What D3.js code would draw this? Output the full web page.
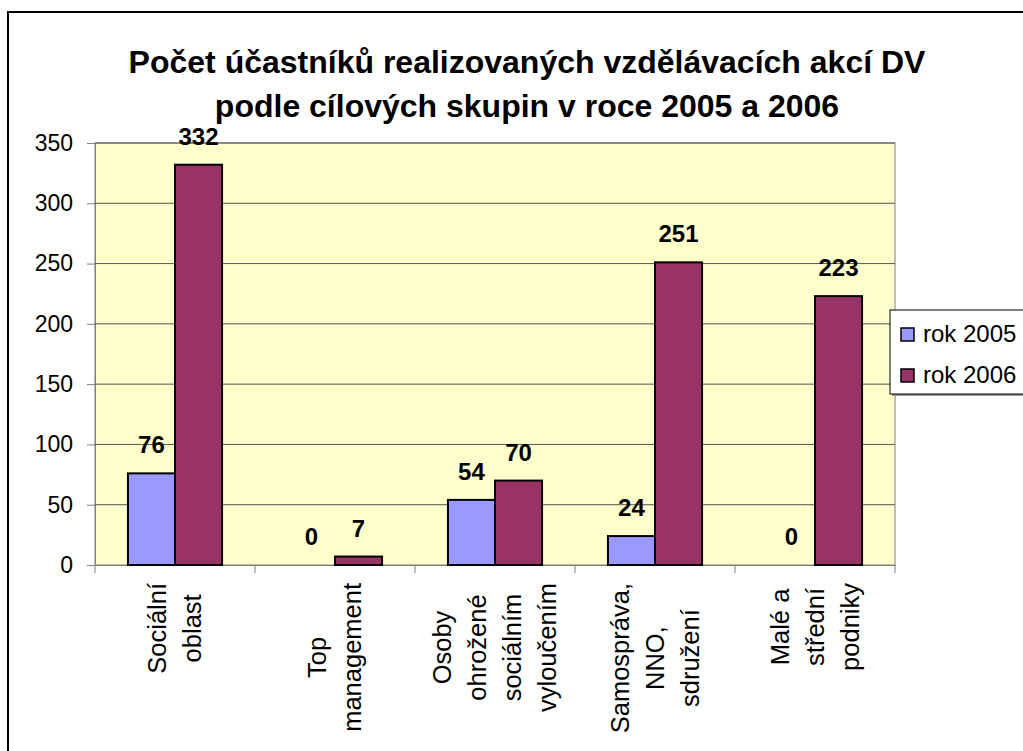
<!DOCTYPE html>
<html>
<head>
<meta charset="utf-8">
<script src="https://cdn.jsdelivr.net/npm/d3@7"></script>
<style>
	body { margin: 0; background: #fff; }
	text { font-family: "Liberation Sans", Arial, sans-serif; fill: #000; }
</style>
</head>
<body>
<svg id="chart" width="1023" height="751"></svg>
<script>
// data
var categories = ['Sociální oblast', 'Top management', 'Osoby ohrožené sociálním vyloučením', 'Samospráva, NNO, sdružení', 'Malé a střední podniky'];
var categoryLines = [
	['Sociální', 'oblast'],
	['Top', 'management'],
	['Osoby', 'ohrožené', 'sociálním', 'vyloučením'],
	['Samospráva,', 'NNO,', 'sdružení'],
	['Malé a', 'střední', 'podniky']
];
var seriesNames = ['rok 2005', 'rok 2006'];
var values2005 = [76, 0, 54, 24, 0];
var values2006 = [332, 7, 70, 251, 223];
var yTicks = [0, 50, 100, 150, 200, 250, 300, 350];
var titleLines = ['Počet účastníků realizovaných vzdělávacích akcí DV', 'podle cílových skupin v roce 2005 a 2006'];

var colors = {'rok 2005': '#9999FF', 'rok 2006': '#993366'};

var plot = {left: 95, right: 895, top: 143, bottom: 565};

var svg = d3.select('#chart');

// outer chart frame (runs off the right and bottom edge)
svg.append('rect')
	.attr('x', 10).attr('y', 14)
	.attr('width', 1100).attr('height', 800)
	.attr('fill', 'none').attr('stroke', '#999').attr('stroke-width', 2);
svg.append('rect')
	.attr('x', 8).attr('y', 12)
	.attr('width', 1100).attr('height', 800)
	.attr('fill', '#fff').attr('stroke', '#000').attr('stroke-width', 2);

// title
svg.selectAll('text.title').data(titleLines)
	.enter()
	.append('text')
	.attr('class', 'title')
	.attr('x', 527)
	.attr('y', function(d, i){ return 73 + i * 44; })
	.attr('text-anchor', 'middle')
	.style('font-weight', 'bold')
	.style('font-size', '32px')
	.text(function(d){ return d; });

var x = d3.scaleBand()
	.domain(categories)
	.range([plot.left, plot.right]);

var xSub = d3.scaleBand()
	.domain(seriesNames)
	.range([0, x.bandwidth()])
	.paddingOuter(0.7);

var y = d3.scaleLinear()
	.domain([0, 350])
	.range([plot.bottom, plot.top]);

// plot background
svg.append('rect')
	.attr('x', plot.left).attr('y', plot.top)
	.attr('width', plot.right - plot.left).attr('height', plot.bottom - plot.top)
	.attr('fill', '#FFFFCC').attr('stroke', '#808080').attr('stroke-width', 1);

// y axis with gridlines
var yAxis = svg.append('g')
	.attr('transform', 'translate(' + plot.left + ',0)')
	.call(d3.axisLeft(y).tickValues(yTicks).tickSize(8).tickPadding(14));

yAxis.select('.domain').attr('stroke', '#808080');
yAxis.selectAll('.tick line').attr('stroke', '#808080');
yAxis.selectAll('.tick text')
	.style('font-size', '23px')
	.style('font-family', '"Liberation Sans", Arial, sans-serif');

svg.append('g').selectAll('line.grid').data(yTicks.slice(1))
	.enter()
	.append('line')
	.attr('class', 'grid')
	.attr('x1', plot.left).attr('x2', plot.right)
	.attr('y1', function(d){ return y(d); })
	.attr('y2', function(d){ return y(d); })
	.attr('stroke', '#555').attr('stroke-width', 1);

// x axis
var xAxis = svg.append('g')
	.attr('transform', 'translate(0,' + plot.bottom + ')')
	.call(d3.axisBottom(x).tickSize(0).tickFormat(''));
xAxis.select('.domain').attr('stroke', '#808080');

var tickPositions = categories.map(function(c){ return x(c); }).concat([plot.right]);
svg.append('g').selectAll('line.xtick').data(tickPositions)
	.enter()
	.append('line')
	.attr('x1', function(d){ return d; }).attr('x2', function(d){ return d; })
	.attr('y1', plot.bottom).attr('y2', plot.bottom + 8)
	.attr('stroke', '#808080');

// bars
var rows = categories.map(function(c, i){
	return {category: c, values: [
		{series: 'rok 2005', value: values2005[i]},
		{series: 'rok 2006', value: values2006[i]}
	]};
});

var group = svg.selectAll('g.group').data(rows)
	.enter()
	.append('g')
	.attr('class', 'group')
	.attr('transform', function(d){ return 'translate(' + x(d.category) + ',0)'; });

group.selectAll('rect.bar').data(function(d){ return d.values; })
	.enter()
	.append('rect')
	.attr('class', 'bar')
	.attr('x', function(d){ return xSub(d.series); })
	.attr('y', function(d){ return y(d.value); })
	.attr('width', xSub.bandwidth())
	.attr('height', function(d){ return y(0) - y(d.value); })
	.attr('fill', function(d){ return colors[d.series]; })
	.attr('stroke', '#000')
	.attr('stroke-width', function(d){ return d.value > 0 ? 2 : 0; });

group.selectAll('text.value').data(function(d){ return d.values; })
	.enter()
	.append('text')
	.attr('class', 'value')
	.attr('x', function(d){ return xSub(d.series) + xSub.bandwidth() / 2; })
	.attr('y', function(d){ return y(d.value) - 20; })
	.attr('text-anchor', 'middle')
	.style('font-weight', 'bold')
	.style('font-size', '24px')
	.text(function(d){ return d.value; });

// rotated category labels
var lineGap = 35, labelTop = 583;
categoryLines.forEach(function(lines, i){
	var cx = x(categories[i]) + x.bandwidth() / 2;
	var g = svg.append('g');
	var texts = g.selectAll('text').data(lines)
		.enter()
		.append('text')
		.style('font-size', '25.5px')
		.attr('text-anchor', 'middle')
		.attr('dy', '0.35em')
		.text(function(d){ return d; });
	var maxLen = d3.max(texts.nodes(), function(n){ return n.getComputedTextLength(); });
	var yc = labelTop + maxLen / 2;
	texts.attr('transform', function(d, j){
		var lx = cx + (j - (lines.length - 1) / 2) * lineGap;
		return 'translate(' + lx + ',' + yc + ') rotate(-90)';
	});
});

// legend
var legend = svg.append('g').attr('transform', 'translate(890,310)');
legend.append('rect')
	.attr('x', 2).attr('y', 2).attr('width', 200).attr('height', 84)
	.attr('fill', '#999');
legend.append('rect')
	.attr('x', 0).attr('y', 0).attr('width', 200).attr('height', 84)
	.attr('fill', '#fff').attr('stroke', '#000').attr('stroke-width', 1);

var item = legend.selectAll('g.item').data(seriesNames)
	.enter()
	.append('g')
	.attr('class', 'item')
	.attr('transform', function(d, i){ return 'translate(0,' + (24 + i * 41) + ')'; });

item.append('rect')
	.attr('x', 11).attr('y', -6).attr('width', 13).attr('height', 13)
	.attr('fill', function(d){ return colors[d]; })
	.attr('stroke', '#000').attr('stroke-width', 1.5);

item.append('text')
	.attr('x', 33).attr('y', 0)
	.attr('dy', '0.35em')
	.style('font-size', '24px')
	.text(function(d){ return d; });
</script>
</body>
</html>
